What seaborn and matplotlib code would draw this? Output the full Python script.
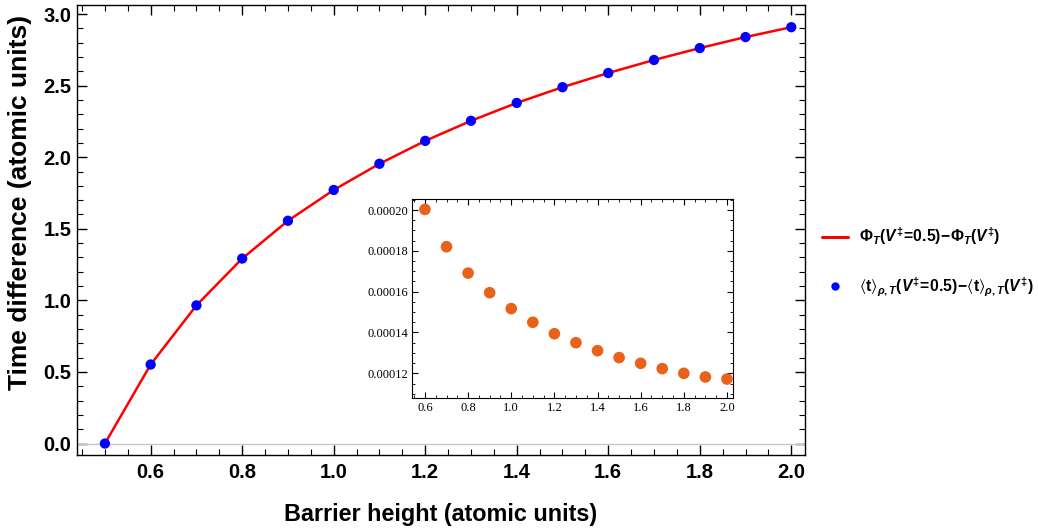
import numpy as np
import pandas as pd
import matplotlib
matplotlib.use("Agg")
import matplotlib.pyplot as plt
import seaborn as sns
from matplotlib.ticker import MultipleLocator, FormatStrFormatter
from matplotlib.lines import Line2D

# ---- data ----
barrier = [0.5, 0.6, 0.7, 0.8, 0.9, 1.0, 1.1, 1.2, 1.3, 1.4, 1.5, 1.6, 1.7, 1.8, 1.9, 2.0]
phase_diff = [0.0, 0.552, 0.965, 1.292, 1.556, 1.771, 1.954, 2.114, 2.254, 2.379,
              2.489, 2.588, 2.679, 2.762, 2.839, 2.908]
mean_t_diff = [0.0, 0.552, 0.965, 1.292, 1.556, 1.771, 1.954, 2.114, 2.254, 2.379,
               2.489, 2.588, 2.679, 2.762, 2.839, 2.908]

inset_x = [0.6, 0.7, 0.8, 0.9, 1.0, 1.1, 1.2, 1.3, 1.4, 1.5, 1.6, 1.7, 1.8, 1.9, 2.0]
inset_y = [0.0002003, 0.0001820, 0.0001691, 0.0001595, 0.0001517, 0.0001450,
           0.0001394, 0.0001350, 0.0001311, 0.0001277, 0.0001249, 0.0001223,
           0.0001200, 0.0001182, 0.0001172]

xlabel = "Barrier height (atomic units)"
ylabel = "Time difference (atomic units)"
label_line = r"$\Phi_{T}(V^{\ddag}\!=\!0.5)\!-\!\Phi_{T}(V^{\ddag})$"
label_dots = r"$⟨\mathrm{t}⟩_{\rho,T}(V^{\ddag}\!=\!0.5)\!-\!⟨\mathrm{t}⟩_{\rho,T}(V^{\ddag})$"

df_main = pd.DataFrame({"x": barrier, "line": phase_diff, "dots": mean_t_diff})
df_inset = pd.DataFrame({"x": inset_x, "y": inset_y})

sns.set_theme(style="ticks")
plt.rcParams["font.family"] = ["Liberation Sans", "DejaVu Sans"]
plt.rcParams["text.color"] = "black"
plt.rcParams["axes.labelcolor"] = "black"
plt.rcParams["xtick.color"] = "black"
plt.rcParams["ytick.color"] = "black"
plt.rcParams["mathtext.fontset"] = "custom"
plt.rcParams["mathtext.rm"] = "Liberation Sans:bold"
plt.rcParams["mathtext.bf"] = "Liberation Sans:bold"
plt.rcParams["mathtext.it"] = "Liberation Sans:italic:bold"
plt.rcParams["mathtext.sf"] = "Liberation Sans:bold"
plt.rcParams["mathtext.fallback"] = "stixsans"

fig = plt.figure(figsize=(10.38, 5.28), dpi=100)
ax = fig.add_axes([77 / 1038, 1 - 455 / 528, 728 / 1038, 450 / 528])

ax.axhline(0, color="#c8c8c8", lw=1.0, zorder=1)
sns.lineplot(data=df_main, x="x", y="line", ax=ax, color="#ff0000", lw=1.8,
             zorder=2, legend=False)
sns.scatterplot(data=df_main, x="x", y="dots", ax=ax, color="#0000ff", s=55,
                edgecolor="none", zorder=3, legend=False)

ax.set_xlim(0.439, 2.03)
ax.set_ylim(-0.08, 3.063)
ax.xaxis.set_major_locator(MultipleLocator(0.2))
ax.xaxis.set_minor_locator(MultipleLocator(0.05))
ax.yaxis.set_major_locator(MultipleLocator(0.5))
ax.yaxis.set_minor_locator(MultipleLocator(0.1))
ax.xaxis.set_major_formatter(FormatStrFormatter("%.1f"))
ax.yaxis.set_major_formatter(FormatStrFormatter("%.1f"))
ax.tick_params(which="both", direction="in", top=True, right=True, color="black")
ax.tick_params(which="major", length=7, width=1.0, labelsize=14.5)
ax.tick_params(axis="x", which="major", pad=6)
ax.tick_params(axis="y", which="major", pad=4)
ax.tick_params(which="minor", length=4, width=0.8)
for lab in ax.get_xticklabels() + ax.get_yticklabels():
    lab.set_fontweight("bold")
for sp in ax.spines.values():
    sp.set_visible(True)
    sp.set_color("black")
    sp.set_linewidth(1.0)
ax.set_xlabel(xlabel, fontsize=16.8, fontweight="bold", labelpad=15)
ax.set_ylabel(ylabel, fontsize=19, fontweight="bold")
ax.yaxis.set_label_coords(-0.062, 0.562)

# inset
axi = fig.add_axes([412 / 1038, 1 - 398 / 528, 321 / 1038, 199 / 528])
sns.scatterplot(data=df_inset, x="x", y="y", ax=axi, color="#e8621a", s=70,
                edgecolor="none", legend=False)
axi.set_xlim(0.54, 2.028)
axi.set_ylim(0.0001079, 0.0002054)
axi.xaxis.set_major_locator(MultipleLocator(0.2))
axi.xaxis.set_minor_locator(MultipleLocator(0.05))
axi.yaxis.set_major_locator(MultipleLocator(0.00002))
axi.yaxis.set_minor_locator(MultipleLocator(0.000005))
axi.xaxis.set_major_formatter(FormatStrFormatter("%.1f"))
axi.yaxis.set_major_formatter(FormatStrFormatter("%.5f"))
axi.tick_params(which="both", direction="in", top=True, right=True, color="black")
axi.tick_params(which="major", length=4, width=0.8, labelsize=9, pad=3)
axi.tick_params(which="minor", length=2, width=0.6)
for lab in axi.get_xticklabels() + axi.get_yticklabels():
    lab.set_fontfamily("Liberation Serif")
for sp in axi.spines.values():
    sp.set_visible(True)
    sp.set_color("black")
    sp.set_linewidth(0.8)
axi.set_xlabel("")
axi.set_ylabel("")

handles = [
    Line2D([0], [0], color="#ff0000", lw=2.2),
    Line2D([0], [0], marker="o", color="none", markerfacecolor="#0000ff",
           markeredgecolor="none", markersize=6),
]
fig.legend(handles, [label_line, label_dots], loc="center left",
           bbox_to_anchor=(822 / 1038, 1 - 262 / 528), frameon=False,
           fontsize=11.3, handlelength=1.65, handletextpad=0.7, labelspacing=1.8,
           borderpad=0, borderaxespad=0)

fig.savefig("out.png", dpi=100)
